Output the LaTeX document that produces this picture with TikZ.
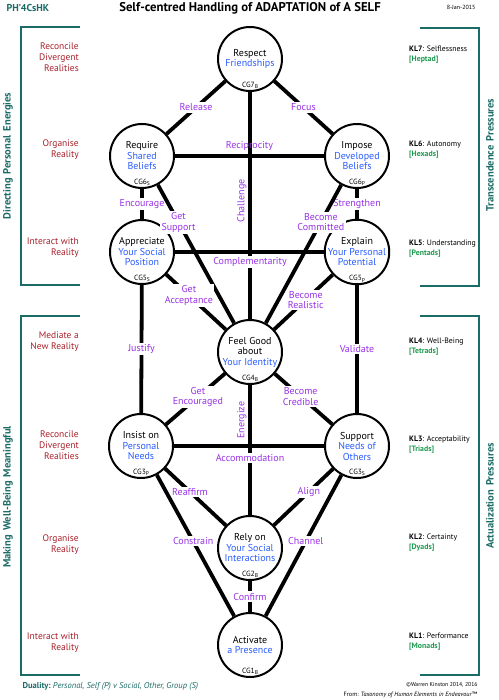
\documentclass[tikz,border=0pt]{standalone}
\usepackage{fontspec}
\setmainfont{PT Sans}
\usepackage{xcolor}
\usepackage{tikz}

\definecolor{linkpurple}{HTML}{9933E6}
\definecolor{objblue}{HTML}{2A5CFF}
\definecolor{lvlred}{HTML}{A8202A}
\definecolor{klgreen}{HTML}{1E9A50}
\definecolor{bracketteal}{HTML}{1B6B66}

\newcommand{\cgl}[2]{CG#1\raisebox{-0.35ex}{\fontsize{5.5}{5.5}\selectfont #2}}
\newcommand{\obj}[1]{\textcolor{objblue}{#1}}

\tikzset{
	cg/.style={circle, draw, line width=2pt, minimum size=64pt, inner sep=0pt, align=center, font=\fontsize{10}{10.5}\selectfont},
	cgtag/.style={anchor=south, inner sep=3pt, font=\fontsize{7.5}{8}\selectfont},
	link/.style={line width=3.8pt},
	lbl/.style={fill=white, text=linkpurple, align=center, inner sep=1.5pt, font=\fontsize{10}{10.5}\selectfont},
	lvl/.style={anchor=east, align=right, inner sep=0pt, text=lvlred, font=\fontsize{9.5}{11}\selectfont},
	kl/.style={anchor=west, align=left, inner sep=0pt, font=\fontsize{7.8}{10}\selectfont},
	bracket/.style={draw=bracketteal, line width=2pt},
	side/.style={rotate=90, text=bracketteal, font=\bfseries\fontsize{10.5}{12}\selectfont}
}

\begin{document}
\begin{tikzpicture}[x=1pt, y=-1pt]
				\useasboundingbox (0,0) rectangle (498,700);
				% header
				\node[anchor=west, text=bracketteal, font=\bfseries\fontsize{10}{11}\selectfont] (tag) at (3,8) {PH’4CsHK};
				\node[font=\bfseries\fontsize{12.7}{14}\selectfont] (title) at (250,8) {Self-centred Handling of ADAPTATION of A SELF};
				\node[anchor=east, font=\fontsize{6}{7}\selectfont] (date) at (479,7) {8-Jan-2015};
				% circles
				\node[cg, label={[cgtag]south:\cgl{7}{B}}] (cg7) at (250,59) {Respect\\\obj{Friendships}};
				\node[cg, label={[cgtag]south:\cgl{6}{S}}] (cg6s) at (142,156) {Require\\\obj{Shared}\\\obj{Beliefs}};
				\node[cg, label={[cgtag]south:\cgl{6}{P}}] (cg6p) at (357,156) {Impose\\\obj{Developed}\\\obj{Beliefs}};
				\node[cg, label={[cgtag]south:\cgl{5}{S}}] (cg5s) at (142,252) {Appreciate\\\obj{Your Social}\\\obj{Position}};
				\node[cg, label={[cgtag]south:\cgl{5}{P}}] (cg5p) at (357,252) {Explain\\\obj{Your Personal}\\\obj{Potential}};
				\node[cg, label={[cgtag]south:\cgl{4}{B}}] (cg4) at (250,352) {Feel Good\\about\\\obj{Your Identity}};
				\node[cg, label={[cgtag]south:\cgl{3}{P}}] (cg3p) at (141,446) {Insist on\\\obj{Personal}\\\obj{Needs}};
				\node[cg, label={[cgtag]south:\cgl{3}{S}}] (cg3s) at (357,446) {Support\\\obj{Needs of}\\\obj{Others}};
				\node[cg, label={[cgtag]south:\cgl{2}{B}}] (cg2) at (250,548) {Rely on\\\obj{Your Social}\\\obj{Interactions}};
				\node[cg, label={[cgtag]south:\cgl{1}{B}}] (cg1) at (250,645) {Activate\\\obj{a Presence}};
				% connectors
				\draw[link] (cg7) -- node[lbl]{Release} (cg6s);
				\draw[link] (cg7) -- node[lbl]{Focus} (cg6p);
				\draw[link] (cg7) -- node[lbl, pos=0.48, rotate=90, anchor=south, fill=none]{Challenge} node[lbl, pos=0.75]{Complementarity} (cg4);
				\draw[link] (cg6s) -- node[lbl, above=2pt, fill=none]{Reciprocity} (cg6p);
				\draw[link] (cg5s) -- (cg5p);
				\draw[link] (cg6s) -- node[lbl]{Encourage} (cg5s);
				\draw[link] (cg6p) -- node[lbl]{Strengthen} (cg5p);
				\draw[link] (cg6s) -- node[lbl, pos=0.27]{Get\\Support} (cg4);
				\draw[link] (cg6p) -- node[lbl, pos=0.27]{Become\\Committed} (cg4);
				\draw[link] (cg5s) -- node[lbl, pos=0.38]{Get\\Acceptance} (cg4);
				\draw[link] (cg5p) -- node[lbl, pos=0.46]{Become\\Realistic} (cg4);
				\draw[link] (cg5s) -- node[lbl]{Justify} (cg3p);
				\draw[link] (cg5p) -- node[lbl]{Validate} (cg3s);
				\draw[link] (cg4) -- node[lbl, pos=0.46]{Get\\Encouraged} (cg3p);
				\draw[link] (cg4) -- node[lbl, pos=0.45]{Become\\Credible} (cg3s);
				\draw[link] (cg4) -- node[lbl, pos=0.27, rotate=90, anchor=south, fill=none]{Energize} node[lbl, pos=0.56]{Accommodation} (cg2);
				\draw[link] (cg3p) -- (cg3s);
				\draw[link] (cg3p) -- node[lbl, pos=0.41]{Reaffirm} (cg2);
				\draw[link] (cg3s) -- node[lbl, pos=0.41]{Align} (cg2);
				\draw[link] (cg3p) -- node[lbl, pos=0.47]{Constrain} (cg1);
				\draw[link] (cg3s) -- node[lbl, pos=0.47]{Channel} (cg1);
				\draw[link] (cg2) -- node[lbl]{Confirm} (cg1);
				% left levels
				\node[lvl] (lv7) at (79,57) {Reconcile\\Divergent\\Realities};
				\node[lvl] (lv6) at (79,150) {Organise\\Reality};
				\node[lvl] (lv5) at (79,248) {Interact with\\Reality};
				\node[lvl] (lv4) at (79,342) {Mediate a\\New Reality};
				\node[lvl] (lv3) at (79,445) {Reconcile\\Divergent\\Realities};
				\node[lvl] (lv2) at (79,545) {Organise\\Reality};
				\node[lvl] (lv1) at (79,643) {Interact with\\Reality};
				% right levels
				\node[kl] (kl7) at (409,54.5) {\textbf{KL7}: Selflessness\\\textcolor{klgreen}{\textbf{[Heptad]}}};
				\node[kl] (kl6) at (409,150) {\textbf{KL6}: Autonomy\\\textcolor{klgreen}{\textbf{[Hexads]}}};
				\node[kl] (kl5) at (409,249) {\textbf{KL5}: Understanding\\\textcolor{klgreen}{\textbf{[Pentads]}}};
				\node[kl] (kl4) at (409,347) {\textbf{KL4}: Well-Being\\\textcolor{klgreen}{\textbf{[Tetrads]}}};
				\node[kl] (kl3) at (409,444.5) {\textbf{KL3}: Acceptability\\\textcolor{klgreen}{\textbf{[Triads]}}};
				\node[kl] (kl2) at (409,543) {\textbf{KL2}: Certainty\\\textcolor{klgreen}{\textbf{[Dyads]}}};
				\node[kl] (kl1) at (409,642) {\textbf{KL1}: Performance\\\textcolor{klgreen}{\textbf{[Monads]}}};
				% brackets
				\draw[bracket] (80,27) -- (21,27) -- (21,285) -- (80,285);
				\draw[bracket] (80,316) -- (21,316) -- (21,675) -- (80,675);
				\draw[bracket] (420,28) -- (479,28) -- (479,286) -- (420,286);
				\draw[bracket] (420,316) -- (479,316) -- (479,675) -- (420,675);
				\node[side] (dpe) at (8,156) {Directing\hspace{.4em}Personal\hspace{.4em}Energies};
				\node[side] (mwm) at (8,497) {Making\hspace{.4em}Well-Being\hspace{.4em}Meaningful};
				\node[side] (tp) at (490,155) {Transcendence\hspace{.4em}Pressures};
				\node[side] (ap) at (490,496) {Actualization\hspace{.4em}Pressures};
				% footer
				\node[anchor=west, text=bracketteal, font=\fontsize{8.5}{9}\selectfont] (duality) at (19,686) {\textbf{Duality:}\ \textit{Personal, Self (P) v Social, Other, Group (S)}};
				\node[anchor=east, font=\fontsize{5.7}{6}\selectfont] (copy) at (481,685) {©Warren Kinston 2014, 2016};
				\node[anchor=east, font=\fontsize{6.2}{7}\selectfont] (from) at (481,695) {From: \textit{Taxonomy of Human Elements in Endeavour}™};
			\end{tikzpicture}
\end{document}
